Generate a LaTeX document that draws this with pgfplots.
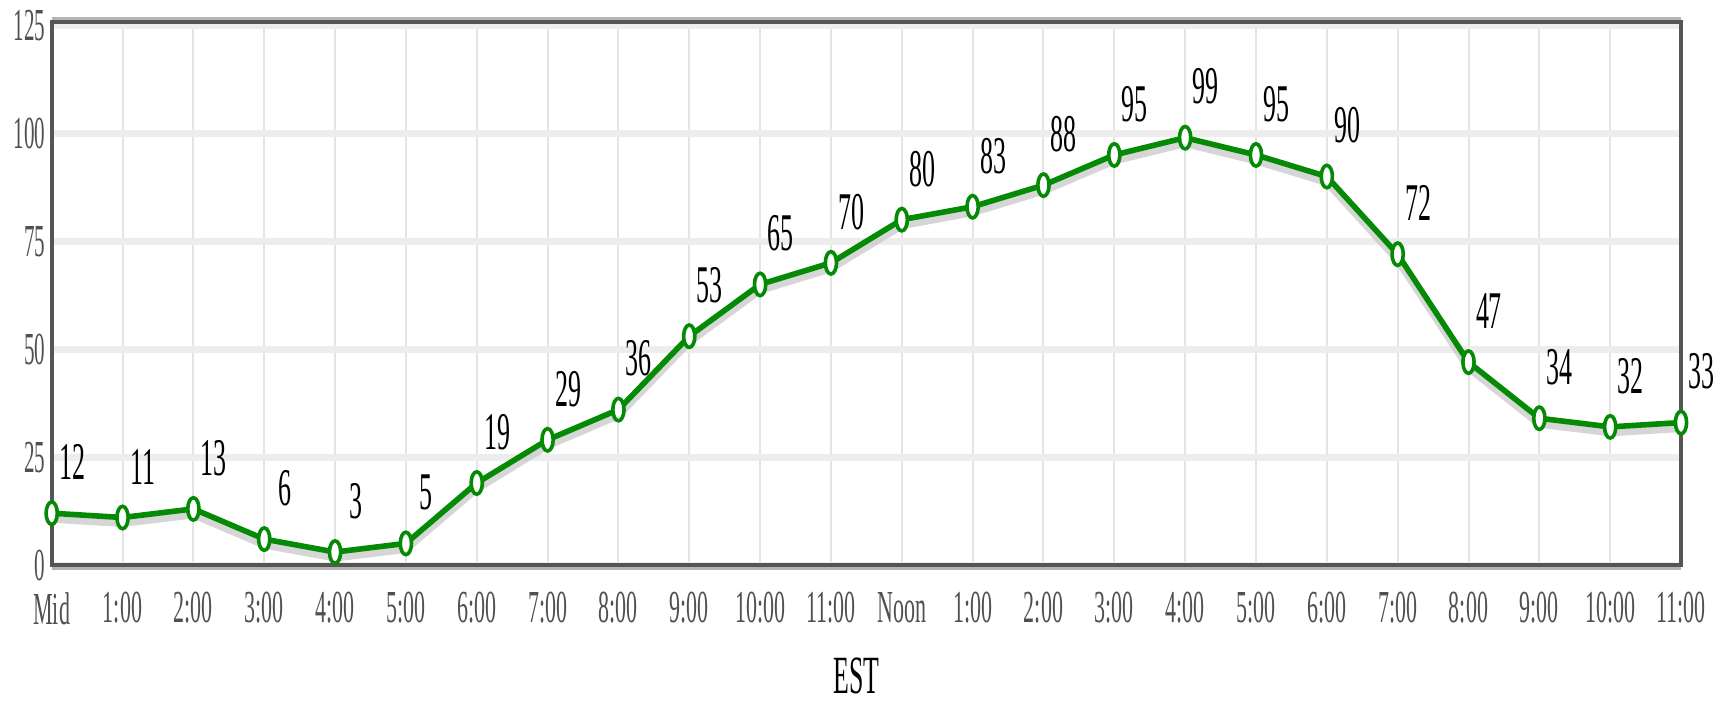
\documentclass[border=0pt]{standalone}
\usepackage{pgfplots}
\usepackage{pgfplotstable}
\pgfplotsset{compat=1.18}
\usepackage{fontspec}
\setmainfont{Liberation Serif}
\definecolor{linegreen}{HTML}{058A05}
\definecolor{tickgray}{HTML}{505050}
\definecolor{framedark}{HTML}{555555}
\definecolor{framelight}{HTML}{B4B4B4}
\definecolor{gridv}{HTML}{E4E4E4}
\definecolor{gridh}{HTML}{EDEDED}
\definecolor{shadowgray}{HTML}{C8C8C8}

\pgfplotstableread{
x y
0 12
1 11
2 13
3 6
4 3
5 5
6 19
7 29
8 36
9 53
10 65
11 70
12 80
13 83
14 88
15 95
16 99
17 95
18 90
19 72
20 47
21 34
22 32
23 33
}\datatable

\begin{document}
\begin{tikzpicture}
\useasboundingbox (-25.85bp,-68bp) rectangle (840.65bp,282.5bp);
\begin{axis}[
  at={(0,0)}, anchor=south west,
  scale only axis,
  width=814.65bp, height=271.5bp,
  xmin=0, xmax=23, ymin=0, ymax=125.8,
  clip=false,
  xtick={0,...,23},
  xticklabels={Mid,1:00,2:00,3:00,4:00,5:00,6:00,7:00,8:00,9:00,10:00,11:00,Noon,1:00,2:00,3:00,4:00,5:00,6:00,7:00,8:00,9:00,10:00,11:00},
  ytick={0,25,50,75,100,125},
  major tick length=0pt,
  /pgf/number format/assume math mode=true,
  axis line style={draw=framedark, line width=2bp},
  xmajorgrids, ymajorgrids,
  x grid style={gridv, line width=1bp},
  y grid style={gridh, line width=3.5bp},
  ticklabel style={font=\fontsize{23}{23}\selectfont, text=tickgray},
  yticklabel style={anchor=east, inner sep=0pt, xshift=-3bp, xscale=0.46},
  xticklabel style={anchor=north, inner sep=0pt, yshift=-13.5bp, xscale=0.48},
  xlabel={EST},
  xlabel style={at={(axis description cs:0.494,0)}, anchor=north, inner sep=0pt,
    yshift=-46bp, font=\fontsize{27}{27}\selectfont, text=black, xscale=0.48},
]
\addplot[no marks, shadowgray, line width=3.5bp, yshift=-3bp, opacity=0.75] table {\datatable};
\addplot[linegreen, line width=2.8bp, mark=*,
  mark size=5.6bp,
  mark options={fill=white, draw=linegreen, line width=1.8bp, xscale=0.5},
  nodes near coords,
  every node near coord/.append style={font=\fontsize{26.6}{27}\selectfont, text=black,
    anchor=center, inner sep=0pt, xshift=10.25bp, yshift=25.5bp, xscale=0.49},
] table {\datatable};
\draw[framelight, line width=1.6bp] ([yshift=1.8bp]rel axis cs:0,1) -- ([yshift=1.8bp]rel axis cs:1,1);
\draw[framelight, line width=1.4bp] ([yshift=-1.7bp]rel axis cs:0,0) -- ([yshift=-1.7bp]rel axis cs:1,0);
\end{axis}
\end{tikzpicture}
\end{document}
